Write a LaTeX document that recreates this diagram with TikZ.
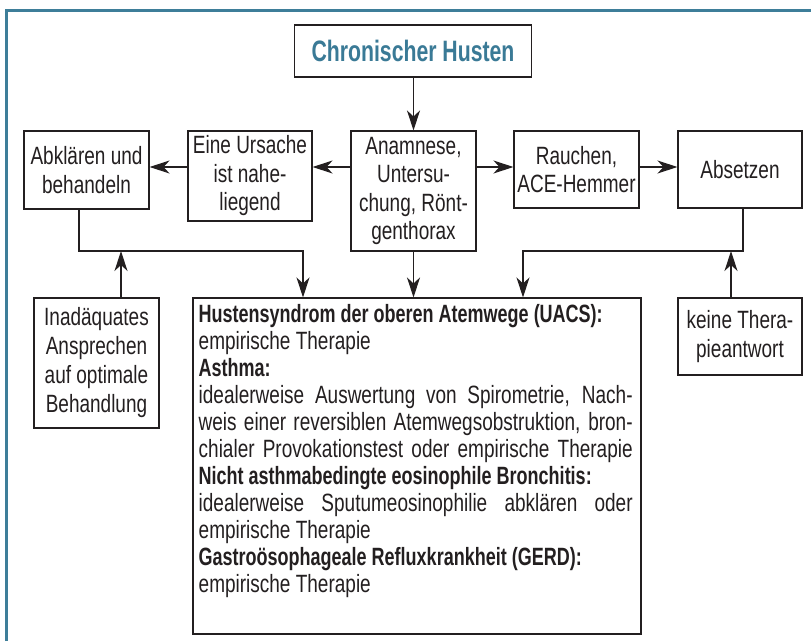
\documentclass[tikz,border=0pt]{standalone}
\usepackage{fontspec}
\setmainfont[FakeStretch=0.76, BoldFeatures={FakeStretch=0.72}]{Liberation Sans}
\usetikzlibrary{arrows.meta}
\definecolor{frameteal}{RGB}{62,126,153}
\definecolor{titleteal}{RGB}{58,122,150}
\definecolor{ink}{RGB}{35,31,32}
\begin{document}
\begin{tikzpicture}[x=1pt,y=-1pt,
  box/.style={draw=ink, line width=1.1pt, fill=white, align=center, inner sep=0pt, text=ink, font=\fontsize{25}{28.5}\selectfont},
  arr/.style={draw=ink, line width=1.2pt, -{Stealth[length=20pt,width=13pt,inset=6pt]}},
  link/.style={draw=ink, line width=1.2pt}]
\useasboundingbox (0,0) rectangle (811,641);
\fill[white] (0,0) rectangle (811,641);
\draw[frameteal, line width=3pt] (6.8,641) -- (6.8,10.7) -- (811,10.7);

\node[box, minimum width=237pt, minimum height=52pt, font=\bfseries\fontsize{29.5}{32}\selectfont, text=titleteal] (title) at (413,51) {Chronischer Husten};

\node[box, minimum width=125pt, minimum height=78pt] (abk) at (86.5,170) {Abklären und\\behandeln};
\node[box, minimum width=124pt, minimum height=90pt] (urs) at (250,176) {Eine Ursache\\ist nahe-\\liegend};
\node[box, minimum width=125pt, minimum height=120pt] (ana) at (413.5,191) {Anamnese,\\Untersu-\\chung, Rönt-\\genthorax};
\node[box, minimum width=125pt, minimum height=77pt] (rau) at (576.5,169.5) {Rauchen,\\ACE-Hemmer};
\node[box, minimum width=124pt, minimum height=77pt] (abs) at (740,169.5) {Absetzen};

\node[box, minimum width=125pt, minimum height=130pt, font=\fontsize{25}{29}\selectfont] (inad) at (96.5,363) {Inadäquates\\Ansprechen\\auf optimale\\Behandlung};
\node[box, minimum width=124pt, minimum height=77pt] (keine) at (740,336.5) {keine Thera-\\pieantwort};

\node[box, minimum width=448pt, minimum height=336pt] (main) at (417,466) {};
\node[anchor=base west, inner sep=0pt, text=ink] (maintext) at (198.5,322) {\parbox[t]{434pt}{\fontsize{25}{27}\selectfont\raggedright
\textbf{Hustensyndrom der oberen Atemwege (UACS):}\\
empirische Therapie\\
\textbf{Asthma:}\\
\makebox[\linewidth][s]{idealerweise Auswertung von Spirometrie, Nach-}\\
\makebox[\linewidth][s]{weis einer reversiblen Atemwegsobstruktion, bron-}\\
\makebox[\linewidth][s]{chialer Provokationstest oder empirische Therapie}\\
\textbf{Nicht asthmabedingte eosinophile Bronchitis:}\\
\makebox[\linewidth][s]{idealerweise Sputumeosinophilie abklären oder}\\
empirische Therapie\\
\textbf{Gastroösophageale Refluxkrankheit (GERD):}\\
empirische Therapie}};

\coordinate (hy) at (0,167);
\coordinate (jl) at (303,251);
\coordinate (jr) at (523,251);

\draw[arr] (title.south -| ana.north) -- (ana.north);
\draw[arr] (ana.west |- hy) -- (urs.east |- hy);
\draw[arr] (urs.west |- hy) -- (abk.east |- hy);
\draw[arr] (ana.east |- hy) -- (rau.west |- hy);
\draw[arr] (rau.east |- hy) -- (abs.west |- hy);

\draw[arr] ([xshift=-7.5pt]abk.south) |- (jl) -- (jl |- main.north);
\draw[arr] ([xshift=24.5pt]inad.north) -- ([xshift=24.5pt]inad.north |- jl);
\draw[arr] (ana.south) -- (ana.south |- main.north);
\draw[arr] ([xshift=3pt]abs.south) |- (jr) -- (jr |- main.north);
\draw[arr] ([xshift=-9pt]keine.north) -- ([xshift=-9pt]keine.north |- jr);
\end{tikzpicture}
\end{document}
